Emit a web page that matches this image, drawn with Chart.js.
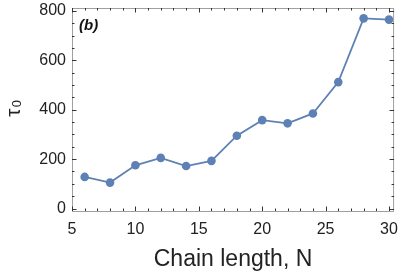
<!DOCTYPE html>
<html>
<head>
<meta charset="utf-8">
<script src="https://cdn.jsdelivr.net/npm/chart.js@4.4.1/dist/chart.umd.min.js"></script>
<style>
  html, body { margin: 0; padding: 0; background: #fff; }
  #wrap { width: 407px; height: 273px; position: relative; }
</style>
</head>
<body>
<div id="wrap"><canvas id="chart"></canvas></div>
<script>
// chain length N and tau_0
const chainLength = [6, 8, 10, 12, 14, 16, 18, 20, 22, 24, 26, 28, 30];
const tau0 = [128, 105, 175, 205, 172, 193, 295, 358, 345, 385, 512, 770, 765];
const xTicks = [5, 10, 15, 20, 25, 30];
const yTicks = [0, 200, 400, 600, 800];
const xMinorStep = 1;
const yMinorStep = 50;

const blue = "rgb(94,129,181)";
const font = "'Liberation Sans', Arial, sans-serif";

// frame with inward ticks on all four sides, plus y title and panel label
const framePlugin = {
  id: "frame",
  afterDraw(chart) {
    const { ctx, chartArea: a, scales } = chart;
    const x = scales.x, y = scales.y;
    ctx.save();
    ctx.strokeStyle = "#a0a0a0";
    ctx.lineWidth = 1;
    ctx.strokeRect(a.left + 0.5, a.top + 0.5, a.right - a.left - 1, a.bottom - a.top);

    ctx.strokeStyle = "#333";
    ctx.beginPath();
    for (let v = 5; v <= 30.0001; v += xMinorStep) {
      const px = Math.round(x.getPixelForValue(v)) + 0.5;
      const len = xTicks.includes(v) ? 4.5 : 2.5;
      ctx.moveTo(px, a.bottom); ctx.lineTo(px, a.bottom - len);
      ctx.moveTo(px, a.top); ctx.lineTo(px, a.top + len);
    }
    for (let v = 0; v <= 800.0001; v += yMinorStep) {
      const py = Math.round(y.getPixelForValue(v)) + 0.5;
      const len = yTicks.includes(v) ? 4.5 : 2.5;
      ctx.moveTo(a.left, py); ctx.lineTo(a.left + len, py);
      ctx.moveTo(a.right, py); ctx.lineTo(a.right - len, py);
    }
    ctx.stroke();

    // y axis title: tau with subscript 0, reading upward
    ctx.fillStyle = "#222";
    ctx.translate(14, (a.top + a.bottom) / 2);
    ctx.rotate(-Math.PI / 2);
    ctx.textBaseline = "alphabetic";
    ctx.textAlign = "left";
    ctx.font = "21px " + font;
    const w = ctx.measureText("τ").width;
    ctx.fillText("τ", -w / 2 - 3, 6);
    ctx.font = "13px " + font;
    ctx.fillText("0", w / 2 - 2, 7);
    ctx.restore();

    ctx.save();
    ctx.fillStyle = "#111";
    ctx.font = "italic bold 15px " + font;
    ctx.textBaseline = "middle";
    ctx.fillText("(b)", a.left + 7, a.top + 18);
    ctx.restore();
  }
};

new Chart(document.getElementById("chart"), {
  type: "line",
  data: {
    datasets: [{
      data: chainLength.map((n, i) => ({ x: n, y: tau0[i] })),
      borderColor: blue,
      backgroundColor: blue,
      borderWidth: 1.8,
      pointRadius: 4.3,
      pointBorderWidth: 0,
      tension: 0,
    }],
  },
  options: {
    responsive: true,
    maintainAspectRatio: false,
    animation: false,
    events: [],
    layout: { padding: { top: 8, right: 7, left: 0, bottom: 0 } },
    plugins: { legend: { display: false }, tooltip: { enabled: false } },
    scales: {
      x: {
        type: "linear",
        min: 5,
        max: 30.4,
        afterBuildTicks: (s) => { s.ticks = xTicks.map((v) => ({ value: v })); },
        afterFit: (s) => { s.height = 62; },
        grid: { display: false, drawTicks: false },
        border: { display: false },
        ticks: { color: "#222", font: { family: font, size: 16 }, padding: 9, maxRotation: 0 },
        title: { display: true, text: "Chain length, N", color: "#222", font: { family: font, size: 23 }, padding: { top: 8, bottom: 0 } },
      },
      y: {
        type: "linear",
        min: -10,
        max: 812,
        afterBuildTicks: (s) => { s.ticks = yTicks.map((v) => ({ value: v })); },
        afterFit: (s) => { s.width = 72; s.paddingTop = 0; s.paddingBottom = 0; },
        grid: { display: false, drawTicks: false },
        border: { display: false },
        ticks: { color: "#222", font: { family: font, size: 16, lineHeight: 1 }, padding: 6 },
      },
    },
  },
  plugins: [framePlugin],
});
</script>
</body>
</html>
